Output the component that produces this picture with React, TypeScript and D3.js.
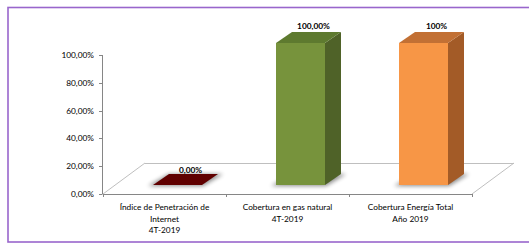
import * as d3 from 'd3';

const categories = [
  ['Índice de Penetración de', 'Internet', '4T-2019'],
  ['Cobertura en gas natural', '4T-2019'],
  ['Cobertura Energía Total', 'Año 2019'],
];
const values = [0, 1, 1];
const valueLabels = ['0,00%', '100,00%', '100%'];
const yTicks = [0, 0.2, 0.4, 0.6, 0.8, 1];

// front / side / top shades per bar
const palette = [
  { front: '#600000', side: '#4a0000', top: '#600000' },
  { front: '#77933c', side: '#4f6228', top: '#5e7a2f' },
  { front: '#f79646', side: '#a35b27', top: '#c27034' },
];

const W = 529;
const H = 244;
const floor = { x0: 103, x1: 472, y: 194, dx: 42, dy: -31 };
const barW = 49;
const barShift = { dx: 13, dy: -9 };
const barDepth = { dx: 16, dy: -11 };

const fmtTick = (v: number) => (v * 100).toFixed(2).replace('.', ',') + '%';

export default function App() {
  const x = d3.scaleBand<number>()
    .domain(categories.map((_, i) => i))
    .range([floor.x0, floor.x1])
    .paddingInner(0)
    .paddingOuter(0);
  const y = d3.scaleLinear().domain([0, 1]).range([floor.y, 55]);
  const yBar = d3.scaleLinear().domain([0, 1]).range([floor.y + barShift.dy, 43]);

  const pts = (p: [number, number][]) => p.map(d => d.join(',')).join(' ');
  const font = 'Lato, "Liberation Sans", sans-serif';
  const fs = 8.3;

  return (
    <svg width={W} height={H} style={{ position: 'absolute', left: 0, top: 0 }}>
      <defs>
        <filter id="shadow" x="-50%" y="-50%" width="200%" height="200%">
          <feGaussianBlur stdDeviation="2" />
        </filter>
      </defs>
      <rect x={0} y={0} width={W} height={H} fill="#fff" />
      <rect x={8} y={7.5} width={W + 20} height={234.5} fill="none" stroke="#9966cc" strokeWidth={1.6} />

      {/* floor */}
      <g stroke="#bfbfbf" strokeWidth={1} fill="none">
        <line x1={floor.x0 + floor.dx} y1={floor.y + floor.dy + 0.5} x2={floor.x1 + floor.dx} y2={floor.y + floor.dy + 0.5} />
        <line x1={floor.x0} y1={floor.y} x2={floor.x0 + floor.dx} y2={floor.y + floor.dy} />
        <line x1={floor.x1} y1={floor.y} x2={floor.x1 + floor.dx} y2={floor.y + floor.dy} />
      </g>

      {/* y axis */}
      <line x1={102.5} y1={y(1)} x2={102.5} y2={y(0)} stroke="#868686" />
      {yTicks.map(t => (
        <g key={t}>
          <line x1={99} x2={102.5} y1={Math.round(y(t)) + 0.5} y2={Math.round(y(t)) + 0.5} stroke="#868686" />
          <text x={94} y={y(t) + 3} textAnchor="end" fontSize={fs} fontFamily={font} fill="#000">
            {fmtTick(t)}
          </text>
        </g>
      ))}

      {/* x axis */}
      <line x1={floor.x0} y1={floor.y + 0.5} x2={floor.x1} y2={floor.y + 0.5} stroke="#868686" />
      {[...categories.map((_, i) => x(i) as number), floor.x1].map((t, i) => (
        <line key={i} x1={Math.round(t) + 0.5} x2={Math.round(t) + 0.5} y1={floor.y} y2={floor.y + 3} stroke="#868686" />
      ))}
      {categories.map((lines, i) => {
        const cx = (x(i) as number) + x.bandwidth() / 2;
        return (
          <text key={i} textAnchor="middle" fontSize={fs} fontFamily={font} fill="#000">
            {lines.map((l, j) => (
              <tspan key={j} x={cx} y={210 + j * 11.5}>{l}</tspan>
            ))}
          </text>
        );
      })}

      {/* bars */}
      {values.map((v, i) => {
        const c = palette[i];
        const cx = (x(i) as number) + x.bandwidth() / 2;
        const fx0 = cx + barShift.dx - barW / 2;
        const fx1 = fx0 + barW;
        const yb = yBar(0);
        const yt = yBar(v);
        const { dx, dy } = barDepth;
        return (
          <g key={i}>
            <polygon
              points={pts([[fx0 - 5, yb + 1], [fx1 + 1, yb + 1], [fx1 + dx + 5, yb + dy], [fx0 + dx, yb + dy]])}
              fill="#000"
              opacity={0.45}
              filter="url(#shadow)"
            />
            {v > 0 && <rect x={fx0} y={yt} width={barW} height={yb - yt} fill={c.front} />}
            {v > 0 && (
              <polygon points={pts([[fx1, yt], [fx1 + dx, yt + dy], [fx1 + dx, yb + dy], [fx1, yb]])} fill={c.side} />
            )}
            <polygon points={pts([[fx0, yt], [fx1, yt], [fx1 + dx, yt + dy], [fx0 + dx, yt + dy]])} fill={c.top} />
            <text
              x={cx + barShift.dx + 13}
              y={yt + dy - (v > 0 ? 3 : 1)}
              textAnchor="middle"
              fontSize={fs}
              fontWeight="bold"
              fontFamily={font}
              fill="#000"
            >
              {valueLabels[i]}
            </text>
          </g>
        );
      })}
    </svg>
  );
}
